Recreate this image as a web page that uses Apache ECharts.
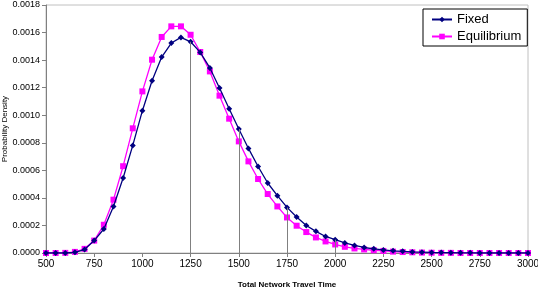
<!DOCTYPE html>
<html><head><meta charset="utf-8">
<script src="https://cdn.jsdelivr.net/npm/echarts@6/dist/echarts.min.js"></script>
<style>html,body{margin:0;padding:0;background:#fff}#c{width:538px;height:290px}</style>
</head><body><div id="c"></div>
<script>
var xValues = [500,550,600,650,700,750,800,850,900,950,1000,1050,1100,1150,1200,1250,1300,1350,1400,1450,1500,1550,1600,1650,1700,1750,1800,1850,1900,1950,2000,2050,2100,2150,2200,2250,2300,2350,2400,2450,2500,2550,2600,2650,2700,2750,2800,2850,2900,2950,3000];
var fixedValues = [0,0,0,0.000005,0.000025,0.00009,0.000174,0.000338,0.000544,0.000781,0.001033,0.00125,0.001422,0.001524,0.001565,0.001533,0.001456,0.001343,0.001197,0.001047,0.0009,0.000759,0.000628,0.000508,0.000416,0.000331,0.000261,0.0002,0.000157,0.00012,0.000097,0.000073,0.000055,0.00004,0.00003,0.000022,0.000016,0.000012,0.000008,0.000006,0.000004,0.000003,0.000002,0.000001,0.000001,0,0,0,0,0,0];
var equilibriumValues = [0,0,0.000001,0.000008,0.00003,0.00009,0.000205,0.000387,0.00063,0.000905,0.001173,0.001403,0.001568,0.001645,0.001645,0.001584,0.001459,0.001318,0.001142,0.000975,0.00081,0.000665,0.000537,0.000428,0.000338,0.000258,0.000198,0.000152,0.000113,0.000084,0.000062,0.000045,0.000033,0.000026,0.00002,0.000015,0.00001,0.000007,0.000005,0.000003,0.000002,0.000001,0.000001,0,0,0,0,0,0,0,0];
var dropLineX = [1250,1500,1750,2000];
var seriesNames = ['Fixed','Equilibrium'];

function pairs(xs, ys){ return xs.map(function(x,i){return [x, ys[i]];}); }
var dropLines = dropLineX.map(function(x){
  var v = fixedValues[xValues.indexOf(x)];
  return [{coord:[x,0]},{coord:[x,v]}];
});

var chart = echarts.init(document.getElementById('c'), null, {renderer:'canvas'});
chart.setOption({
  animation:false,
  backgroundColor:'#fff',
  textStyle:{fontFamily:'Liberation Sans, Arial, sans-serif'},
  grid:{left:46,right:10,top:5,bottom:37,containLabel:false,outerBoundsMode:'none',show:true,borderColor:'#c0c0c0',borderWidth:1,backgroundColor:'transparent'},
  legend:{
    orient:'vertical', left:423, top:9, width:102,
    backgroundColor:'#fff', borderColor:'#000', borderWidth:1,
    padding:[4,6,3,8], itemGap:4, itemWidth:20, itemHeight:7,
    textStyle:{fontSize:13,color:'#000',fontFamily:'Liberation Sans, Arial, sans-serif'},
    data:seriesNames
  },
  xAxis:{
    type:'value', min:500, max:3000, interval:250,
    name:'Total Network Travel Time', nameLocation:'middle', nameGap:28, nameMoveOverlap:false,
    nameTextStyle:{fontSize:8,fontWeight:'bold',color:'#000'},
    axisLine:{lineStyle:{color:'#808080',width:1}},
    axisTick:{inside:false,length:4,lineStyle:{color:'#808080'}},
    axisLabel:{fontSize:10,color:'#000',margin:6,formatter:function(v){return String(v);}},
    splitLine:{show:false}
  },
  yAxis:{
    type:'value', min:0, max:0.0018, interval:0.0002,
    name:'Probability Density', nameLocation:'middle', nameGap:37, nameMoveOverlap:false,
    nameTextStyle:{fontSize:8,color:'#000'},
    axisLine:{show:true,lineStyle:{color:'#808080',width:1}},
    axisTick:{show:true,inside:false,length:4,lineStyle:{color:'#808080'}},
    axisLabel:{fontSize:9,color:'#000',margin:6,formatter:function(v){return v.toFixed(4);}},
    splitLine:{show:false}
  },
  series:[
    {name:seriesNames[0], type:'line', data:pairs(xValues,fixedValues),
     symbol:'diamond', symbolSize:6, z:3,
     lineStyle:{color:'#000080',width:1.3}, itemStyle:{color:'#000080'},
     markLine:{silent:true, symbol:'none', label:{show:false},
       lineStyle:{color:'#808080',width:1,type:'solid'}, data:dropLines}
    },
    {name:seriesNames[1], type:'line', data:pairs(xValues,equilibriumValues),
     symbol:'rect', symbolSize:6, z:2,
     lineStyle:{color:'#ff00ff',width:1.3}, itemStyle:{color:'#ff00ff'}}
  ]
});
</script></body></html>
